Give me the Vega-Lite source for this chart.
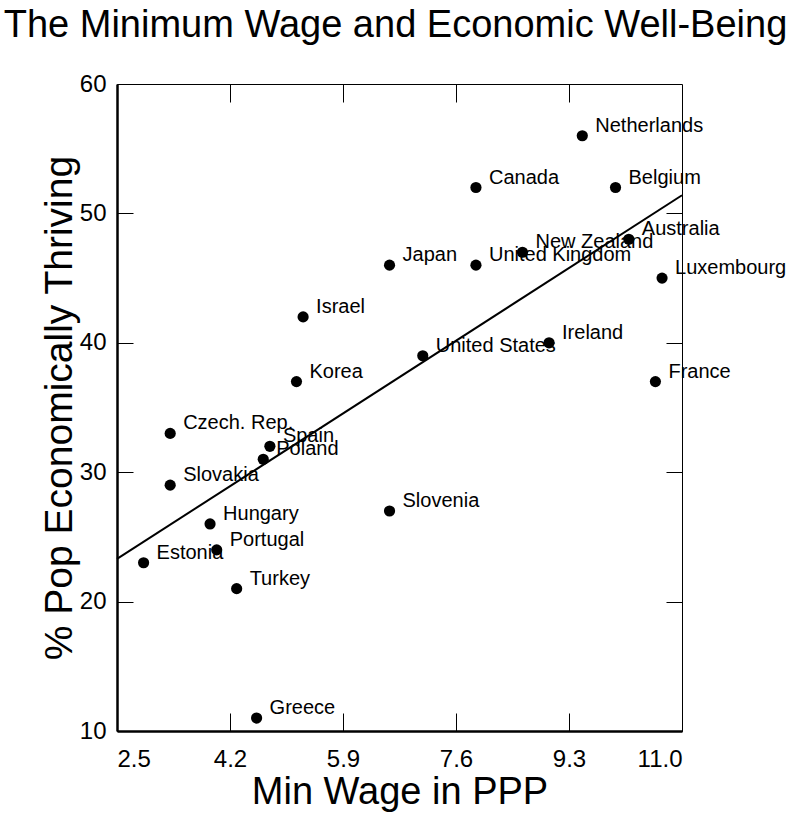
{
  "$schema": "https://vega.github.io/schema/vega-lite/v6.json",
  "width": 565,
  "height": 647,
  "autosize": "none",
  "padding": {"left": 117, "top": 84, "right": 111, "bottom": 83},
  "background": "white",
  "title": {
    "text": "The Minimum Wage and Economic Well-Being",
    "fontSize": 38,
    "font": "Liberation Sans",
    "fontWeight": "normal",
    "color": "black",
    "anchor": "middle",
    "baseline": "alphabetic",
    "offset": -3,
    "dx": -4
  },
  "datasets": {
    "countries": [
      {"country": "Netherlands", "wage": 9.5, "thriving": 56},
      {"country": "Canada", "wage": 7.9, "thriving": 52},
      {"country": "Belgium", "wage": 10.0, "thriving": 52},
      {"country": "Australia", "wage": 10.2, "thriving": 48},
      {"country": "New Zealand", "wage": 8.6, "thriving": 47},
      {"country": "Japan", "wage": 6.6, "thriving": 46},
      {"country": "United Kingdom", "wage": 7.9, "thriving": 46},
      {"country": "Luxembourg", "wage": 10.7, "thriving": 45},
      {"country": "Israel", "wage": 5.3, "thriving": 42},
      {"country": "Ireland", "wage": 9.0, "thriving": 40},
      {"country": "United States", "wage": 7.1, "thriving": 39},
      {"country": "Korea", "wage": 5.2, "thriving": 37},
      {"country": "France", "wage": 10.6, "thriving": 37},
      {"country": "Czech. Rep.", "wage": 3.3, "thriving": 33},
      {"country": "Spain", "wage": 4.8, "thriving": 32},
      {"country": "Poland", "wage": 4.7, "thriving": 31},
      {"country": "Slovakia", "wage": 3.3, "thriving": 29},
      {"country": "Slovenia", "wage": 6.6, "thriving": 27},
      {"country": "Hungary", "wage": 3.9, "thriving": 26},
      {"country": "Portugal", "wage": 4.0, "thriving": 24},
      {"country": "Estonia", "wage": 2.9, "thriving": 23},
      {"country": "Turkey", "wage": 4.3, "thriving": 21},
      {"country": "Greece", "wage": 4.6, "thriving": 11}
    ],
    "fit": [
      {"wage": 2.5, "thriving": 23.3},
      {"wage": 11.0, "thriving": 51.4}
    ]
  },
  "layer": [
    {
      "data": {"name": "countries"},
      "mark": {"type": "point", "shape": "circle", "filled": true, "size": 125, "color": "black", "opacity": 1},
      "encoding": {
        "x": {
          "field": "wage", "type": "quantitative",
          "scale": {"domain": [2.5, 11.0], "nice": false, "zero": false},
          "axis": {
            "orient": "bottom",
            "values": [2.5, 4.2, 5.9, 7.6, 9.3, 11.0],
            "format": ".1f",
            "grid": false,
            "tickSize": -18,
            "tickWidth": 1,
            "labelPadding": 34,
            "labelFontSize": 24,
            "domainWidth": 2.5,
            "title": "Min Wage in PPP",
            "titleFontSize": 38,
            "titlePadding": 2
          }
        },
        "y": {
          "field": "thriving", "type": "quantitative",
          "scale": {"domain": [10, 60], "nice": false, "zero": false},
          "axis": {
            "orient": "left",
            "values": [10, 20, 30, 40, 50, 60],
            "grid": false,
            "tickSize": -16,
            "tickWidth": 1,
            "labelPadding": 27,
            "labelFontSize": 24,
            "domainWidth": 2.5,
            "title": "% Pop Economically Thriving",
            "titleFontSize": 39,
            "titlePadding": 0
          }
        }
      }
    },
    {
      "data": {"name": "fit"},
      "mark": {"type": "line", "color": "black", "strokeWidth": 2},
      "encoding": {
        "x": {
          "field": "wage", "type": "quantitative",
          "axis": {
            "orient": "top",
            "values": [4.2, 5.9, 7.6, 9.3],
            "grid": false,
            "labels": false,
            "domain": false,
            "tickSize": -18,
            "tickWidth": 1,
            "title": null
          }
        },
        "y": {
          "field": "thriving", "type": "quantitative",
          "axis": {
            "orient": "right",
            "values": [20, 30, 40, 50],
            "grid": false,
            "labels": false,
            "domain": false,
            "tickSize": -16,
            "tickWidth": 1,
            "title": null
          }
        }
      }
    },
    {
      "data": {"name": "countries"},
      "mark": {"type": "text", "align": "left", "baseline": "alphabetic", "dx": 13, "dy": -4, "fontSize": 20, "font": "Liberation Sans", "color": "black"},
      "encoding": {
        "x": {"field": "wage", "type": "quantitative", "axis": null},
        "y": {"field": "thriving", "type": "quantitative", "axis": null},
        "text": {"field": "country"}
      }
    }
  ],
  "config": {
    "view": {"stroke": "black", "strokeWidth": 1},
    "font": "Liberation Sans",
    "axis": {
      "labelColor": "black",
      "titleColor": "black",
      "titleFontWeight": "normal",
      "tickColor": "black",
      "domainColor": "black",
      "labelFont": "Liberation Sans",
      "titleFont": "Liberation Sans"
    }
  }
}
